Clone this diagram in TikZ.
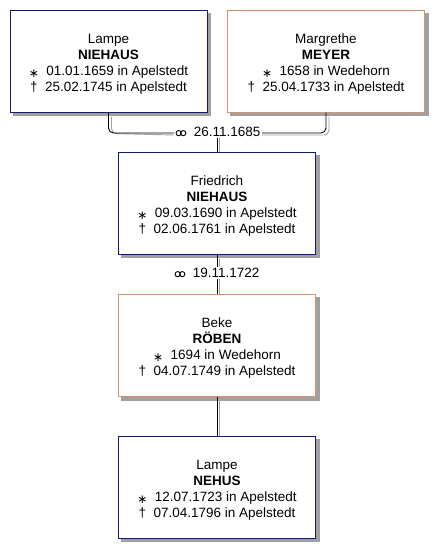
\documentclass[tikz,border=0pt]{standalone}
\usepackage{fontspec}
\setmainfont{Liberation Sans}
\newfontfamily\symfont{DejaVu Sans}
\definecolor{mblue}{RGB}{20,20,140}
\definecolor{forange}{RGB}{220,145,105}
\definecolor{shad}{RGB}{160,160,160}
\tikzset{
 boxsize/.style={minimum width=197pt, minimum height=102pt, inner sep=0pt},
 person/.style={boxsize, draw, line width=1pt, fill=white, align=center, font=\fontsize{13.5}{16}\selectfont},
 male/.style={person, draw=mblue},
 female/.style={person, draw=forange},
 boxshadow/.style={fill=shad},
 conn/.style={line width=0.9pt, black, rounded corners=5pt},
 connshadow/.style={line width=0.9pt, shad, rounded corners=5pt},
 mlabel/.style={fill=white, inner sep=1.5pt, font=\fontsize{13.5}{14}\selectfont},
}
\newcommand{\bsym}{\raisebox{-0.3ex}{\symfont\fontsize{12}{12}\selectfont ∗}}
\newcommand{\dsym}{†}
\newcommand{\fl}{\rule{0pt}{15pt}}
\newcommand{\msym}{\tikz[baseline=-3.5pt,line width=0.9pt]{\draw (0pt,0pt) circle (2.6pt); \draw (4.6pt,0pt) circle (2.6pt);}}
\begin{document}
\begin{tikzpicture}[x=1pt,y=-1pt]
\fill[white] (0,0) rectangle (444,558);
\useasboundingbox (0,0) rectangle (444,558);
% box shadows
\fill[boxshadow] (13,13) rectangle (211,116);
\fill[boxshadow] (230,13) rectangle (429,116);
\fill[boxshadow] (121,155) rectangle (320,258);
\fill[boxshadow] (121,297) rectangle (320,401);
\fill[boxshadow] (121,439) rectangle (320,542);
% persons
\node[male] (p1) at (108.5,61) {\fl Lampe\\\textbf{NIEHAUS}\\\bsym~~01.01.1659 in Apelstedt\\\dsym~~25.02.1745 in Apelstedt};
\node[female] (p2) at (326,61) {\fl Margrethe\\\textbf{MEYER}\\\bsym~~1658 in Wedehorn\\\dsym~~25.04.1733 in Apelstedt};
\node[male] (p3) at (217,203) {\fl Friedrich\\\textbf{NIEHAUS}\\\bsym~~09.03.1690 in Apelstedt\\\dsym~~02.06.1761 in Apelstedt};
\node[female] (p4) at (217,345.5) {\fl Beke\\\textbf{RÖBEN}\\\bsym~~1694 in Wedehorn\\\dsym~~04.07.1749 in Apelstedt};
\node[male] (p5) at (217,487) {\fl Lampe\\\textbf{NEHUS}\\\bsym~~12.07.1723 in Apelstedt\\\dsym~~07.04.1796 in Apelstedt};
% marriage 1
\node[mlabel] (m1) at (218,132) {\msym~~26.11.1685};
\draw[connshadow] ([xshift=3pt,yshift=-4pt]p1.south) -- ++(0,17) -- ([yshift=-2pt]m1.west |- 0,133);
\draw[connshadow] ([yshift=-2pt]m1.east |- 0,133) -| ([xshift=3pt,yshift=-4pt]p2.south);
\draw[conn] (p1.south) |- ([yshift=-1pt]m1.west);
\draw[conn] ([yshift=-1pt]m1.east) -| (p2.south);
\draw[connshadow] ([xshift=2pt]p3.north |- m1.south) -- ([xshift=2pt]p3.north);
\draw[conn] (p3.north |- m1.south) -- (p3.north);
% marriage 2
\draw[connshadow] ([xshift=2pt,yshift=-4pt]p3.south) -- ([xshift=2pt]p4.north);
\draw[conn] (p3.south) -- (p4.north);
\node[mlabel] (m2) at (217,273) {\msym~~19.11.1722};
% child
\draw[connshadow] ([xshift=2pt,yshift=-4pt]p4.south) -- ([xshift=2pt]p5.north);
\draw[conn] (p4.south) -- (p5.north);
\end{tikzpicture}
\end{document}
